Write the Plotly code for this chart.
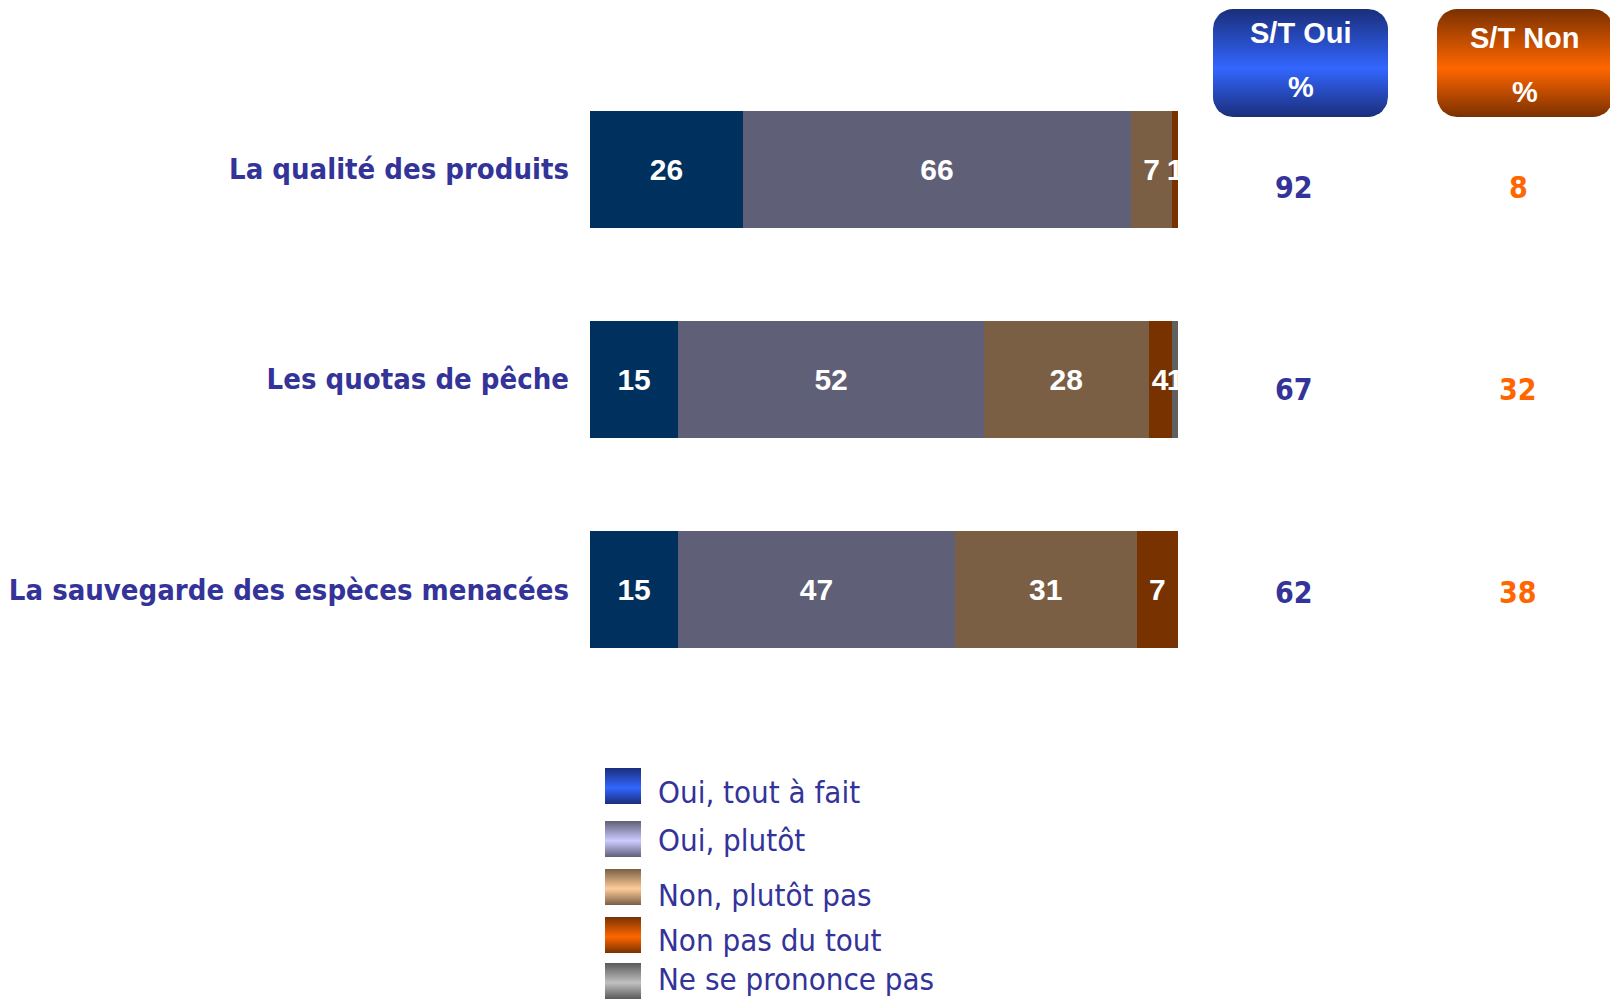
"""
Stacked opinion bars with S/T Oui / S/T Non summary columns.
"""
import math
import plotly.graph_objects as go

# screenshot size; the page body adds an 8px margin around the figure
W, H = 1618, 1002
OFF = 8
FW, FH = W - OFF, H - OFF

categories = ["La qualité des produits", "Les quotas de pêche",
              "La sauvegarde des espèces menacées"]
series_names = ["Oui, tout à fait", "Oui, plutôt", "Non, plutôt pas",
                "Non pas du tout", "Ne se prononce pas"]
oui_tout = [26, 15, 15]
oui_plutot = [66, 52, 47]
non_plutot = [7, 28, 31]
non_tout = [1, 4, 7]
nsp = [0, 1, 0]
st_oui = [92, 67, 62]
st_non = [8, 32, 38]

series_values = [oui_tout, oui_plutot, non_plutot, non_tout, nsp]
bar_colors = ["#00305E", "#5F5F78", "#7A5F45", "#783200", "#606060"]
swatch_light = ["#3366FF", "#CCCCFF", "#FFCC99", "#FF6600", "#C0C0C0"]
swatch_dark = ["#1A2E7A", "#5F5F78", "#7A5F45", "#783200", "#5A5A5A"]

TEXT_BLUE = "#333399"
TEXT_ORANGE = "#FF6600"
TAHOMA = "DejaVu Sans Condensed"
ARIAL = "Liberation Sans"


def px_x(x):
    return (x - OFF) / FW


def px_y(y):
    return 1 - (y - OFF) / FH


def rounded_box(x0, y0, x1, y1, r, n=10):
    """Closed outline of a rounded rectangle in pixel coordinates."""
    corners = [(x1 - r, y0 + r, -90, 0), (x1 - r, y1 - r, 0, 90),
               (x0 + r, y1 - r, 90, 180), (x0 + r, y0 + r, 180, 270)]
    xs, ys = [], []
    for cx, cy, a0, a1 in corners:
        for k in range(n + 1):
            a = math.radians(a0 + (a1 - a0) * k / n)
            xs.append(cx + r * math.cos(a))
            ys.append(cy + r * math.sin(a))
    xs.append(xs[0])
    ys.append(ys[0])
    return xs, ys


def gradient_fill(xs, ys, dark, light):
    return go.Scatter(
        x=xs, y=ys, xaxis="x2", yaxis="y2", mode="lines", fill="toself",
        line=dict(width=0, color=dark), hoverinfo="skip", showlegend=False,
        fillgradient=dict(type="vertical",
                          colorscale=[[0, dark], [0.45, light], [1, dark]]),
    )


fig = go.Figure()

# Stacked bars
for name, vals, col in zip(series_names, series_values, bar_colors):
    fig.add_trace(go.Bar(
        y=categories, x=vals, name=name, orientation="h",
        marker=dict(color=col, line=dict(width=0)), width=0.557,
        text=[str(v) if v else "" for v in vals],
        textposition="inside", insidetextanchor="middle", textangle=0,
        constraintext="none",
        textfont=dict(family=ARIAL, size=30, color="white", weight="bold"),
        showlegend=False, hoverinfo="skip",
    ))

# Header boxes
for label, x0, x1, dark, light, ty in [
        ("S/T Oui", 1213, 1388, "#1A2E7A", "#3366FF", 33),
        ("S/T Non", 1437, 1613, "#7A3000", "#FF6600", 38)]:
    xs, ys = rounded_box(x0, 9, x1, 117, 20)
    fig.add_trace(gradient_fill(xs, ys, dark, light))
    for txt, yy in [(label, ty), ("%", ty + 54)]:
        fig.add_annotation(x=(x0 + x1) / 2, y=yy, xref="x2", yref="y2",
                           text=txt, showarrow=False, xanchor="center",
                           font=dict(family=ARIAL, size=29, color="white",
                                     weight="bold"))

# Summary columns
row_nudge = [-18, -10, -3]
for i, cat in enumerate(categories):
    fig.add_annotation(x=px_x(1294), xref="paper", y=cat, yref="y",
                       xanchor="center", yshift=row_nudge[i],
                       text=str(st_oui[i]), showarrow=False,
                       font=dict(family=TAHOMA, size=30, color=TEXT_BLUE,
                                 weight="bold"))
    fig.add_annotation(x=px_x(1518), xref="paper", y=cat, yref="y",
                       xanchor="center", yshift=row_nudge[i],
                       text=str(st_non[i]), showarrow=False,
                       font=dict(family=TAHOMA, size=30, color=TEXT_ORANGE,
                                 weight="bold"))

# Legend with gradient swatches (rows are not evenly spaced in the original)
legend_tops = [768, 821, 869, 917, 963]
legend_text_y = [792, 840, 895, 940, 979]
for i, name in enumerate(series_names):
    top = legend_tops[i]
    xs = [605, 641, 641, 605, 605]
    ys = [top, top, top + 36, top + 36, top]
    fig.add_trace(gradient_fill(xs, ys, swatch_dark[i], swatch_light[i]))
    fig.add_annotation(x=656, y=legend_text_y[i], xref="x2", yref="y2",
                       text=name, xanchor="left", showarrow=False,
                       font=dict(family=TAHOMA, size=31, color=TEXT_BLUE))

fig.update_layout(
    barmode="stack", width=FW, height=FH,
    margin=dict(l=0, r=0, t=0, b=0, autoexpand=False),
    paper_bgcolor="white", plot_bgcolor="rgba(0,0,0,0)",
    xaxis=dict(range=[0, 100], domain=[px_x(590), px_x(1178)],
               visible=False, fixedrange=True),
    yaxis=dict(type="category", categoryorder="array",
               categoryarray=categories, range=[2.5, -0.5],
               domain=[px_y(694.5), px_y(64)], showgrid=False,
               zeroline=False, showline=False, ticks="",
               ticklabelstandoff=20, automargin=False,
               tickfont=dict(family=TAHOMA, size=29, color=TEXT_BLUE,
                             weight="bold")),
    # overlay axes measured in screenshot pixels, for the decorations
    xaxis2=dict(range=[OFF, W], domain=[0, 1], visible=False, anchor="y2"),
    yaxis2=dict(range=[H, OFF], domain=[0, 1], visible=False, anchor="x2"),
)

fig.write_html("out.html")
